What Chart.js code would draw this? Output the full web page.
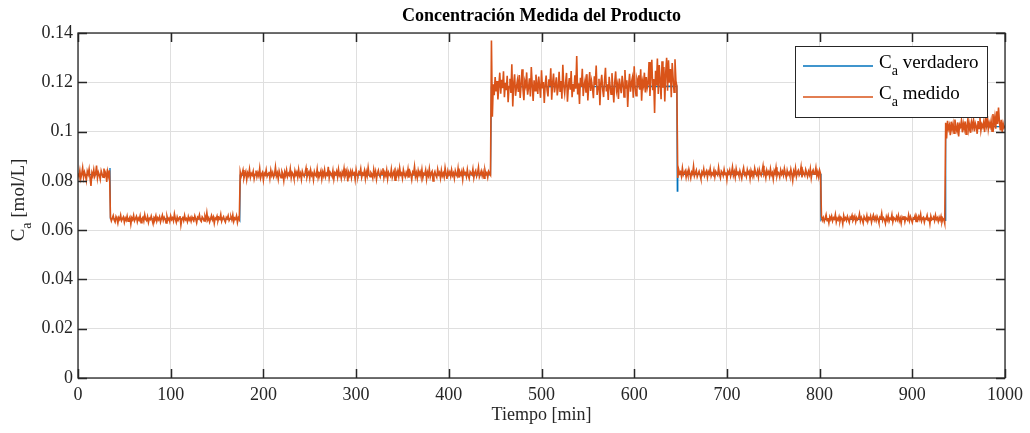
<!DOCTYPE html>
<html lang="es">
<head>
<meta charset="utf-8">
<title>Concentración Medida del Producto</title>
<script src="https://cdn.jsdelivr.net/npm/chart.js@4.4.0/dist/chart.umd.min.js"></script>
<style>
  html, body { margin: 0; padding: 0; background: #fff; }
  #contenedor { width: 1030px; height: 433px; }
</style>
</head>
<body>
<div id="contenedor"><canvas id="grafica" width="1030" height="433"></canvas></div>
<script>
// Tiempo de muestreo de la medición [min]
const tiempo = [
  0,1,2,3,4,5,6,7,8,9,10,11,12,13,14,15,16,17,18,19,20,21,22,23,24,25,26,27,28,29,30,31,32,33,34,35,36,37,38,39,40,41,42,43,44,45,46,47,48,49,
  50,51,52,53,54,55,56,57,58,59,60,61,62,63,64,65,66,67,68,69,70,71,72,73,74,75,76,77,78,79,80,81,82,83,84,85,86,87,88,89,90,91,92,93,94,95,96,97,98,99,
  100,101,102,103,104,105,106,107,108,109,110,111,112,113,114,115,116,117,118,119,120,121,122,123,124,125,126,127,128,129,130,131,132,133,134,135,136,137,138,139,140,141,142,143,144,145,146,147,148,149,
  150,151,152,153,154,155,156,157,158,159,160,161,162,163,164,165,166,167,168,169,170,171,172,173,174,175,176,177,178,179,180,181,182,183,184,185,186,187,188,189,190,191,192,193,194,195,196,197,198,199,
  200,201,202,203,204,205,206,207,208,209,210,211,212,213,214,215,216,217,218,219,220,221,222,223,224,225,226,227,228,229,230,231,232,233,234,235,236,237,238,239,240,241,242,243,244,245,246,247,248,249,
  250,251,252,253,254,255,256,257,258,259,260,261,262,263,264,265,266,267,268,269,270,271,272,273,274,275,276,277,278,279,280,281,282,283,284,285,286,287,288,289,290,291,292,293,294,295,296,297,298,299,
  300,301,302,303,304,305,306,307,308,309,310,311,312,313,314,315,316,317,318,319,320,321,322,323,324,325,326,327,328,329,330,331,332,333,334,335,336,337,338,339,340,341,342,343,344,345,346,347,348,349,
  350,351,352,353,354,355,356,357,358,359,360,361,362,363,364,365,366,367,368,369,370,371,372,373,374,375,376,377,378,379,380,381,382,383,384,385,386,387,388,389,390,391,392,393,394,395,396,397,398,399,
  400,401,402,403,404,405,406,407,408,409,410,411,412,413,414,415,416,417,418,419,420,421,422,423,424,425,426,427,428,429,430,431,432,433,434,435,436,437,438,439,440,441,442,443,444,445,446,447,448,449,
  450,451,452,453,454,455,456,457,458,459,460,461,462,463,464,465,466,467,468,469,470,471,472,473,474,475,476,477,478,479,480,481,482,483,484,485,486,487,488,489,490,491,492,493,494,495,496,497,498,499,
  500,501,502,503,504,505,506,507,508,509,510,511,512,513,514,515,516,517,518,519,520,521,522,523,524,525,526,527,528,529,530,531,532,533,534,535,536,537,538,539,540,541,542,543,544,545,546,547,548,549,
  550,551,552,553,554,555,556,557,558,559,560,561,562,563,564,565,566,567,568,569,570,571,572,573,574,575,576,577,578,579,580,581,582,583,584,585,586,587,588,589,590,591,592,593,594,595,596,597,598,599,
  600,601,602,603,604,605,606,607,608,609,610,611,612,613,614,615,616,617,618,619,620,621,622,623,624,625,626,627,628,629,630,631,632,633,634,635,636,637,638,639,640,641,642,643,644,645,646,647,648,649,
  650,651,652,653,654,655,656,657,658,659,660,661,662,663,664,665,666,667,668,669,670,671,672,673,674,675,676,677,678,679,680,681,682,683,684,685,686,687,688,689,690,691,692,693,694,695,696,697,698,699,
  700,701,702,703,704,705,706,707,708,709,710,711,712,713,714,715,716,717,718,719,720,721,722,723,724,725,726,727,728,729,730,731,732,733,734,735,736,737,738,739,740,741,742,743,744,745,746,747,748,749,
  750,751,752,753,754,755,756,757,758,759,760,761,762,763,764,765,766,767,768,769,770,771,772,773,774,775,776,777,778,779,780,781,782,783,784,785,786,787,788,789,790,791,792,793,794,795,796,797,798,799,
  800,801,802,803,804,805,806,807,808,809,810,811,812,813,814,815,816,817,818,819,820,821,822,823,824,825,826,827,828,829,830,831,832,833,834,835,836,837,838,839,840,841,842,843,844,845,846,847,848,849,
  850,851,852,853,854,855,856,857,858,859,860,861,862,863,864,865,866,867,868,869,870,871,872,873,874,875,876,877,878,879,880,881,882,883,884,885,886,887,888,889,890,891,892,893,894,895,896,897,898,899,
  900,901,902,903,904,905,906,907,908,909,910,911,912,913,914,915,916,917,918,919,920,921,922,923,924,925,926,927,928,929,930,931,932,933,934,935,936,937,938,939,940,941,942,943,944,945,946,947,948,949,
  950,951,952,953,954,955,956,957,958,959,960,961,962,963,964,965,966,967,968,969,970,971,972,973,974,975,976,977,978,979,980,981,982,983,984,985,986,987,988,989,990,991,992,993,994,995,996,997,998,999,
  1000
];

// Concentración medida [mol/L], una muestra por minuto
const caMedido = [
  // 0 - 34 min
  .0831,.0818,.0842,.0809,.0827,.0853,.0814,.0836,.0823,.0801,
  .0839,.0826,.0848,.0812,.0779,.0833,.0820,.0845,.0817,.0829,
  .0862,.0811,.0835,.0824,.0806,.0841,.0828,.0815,.0850,.0822,
  .0834,.0796,.0838,.0819,.0843,
  // 35 - 174 min
  .0652,.0637,.0648,.0659,.0641,.0633,.0655,.0646,.0628,.0651,
  .0643,.0661,.0639,.0647,.0654,.0632,.0649,.0640,.0657,.0636,
  .0645,.0653,.0624,.0650,.0642,.0660,.0638,.0647,.0656,.0634,
  .0649,.0641,.0658,.0630,.0646,.0652,.0637,.0663,.0644,.0639,
  .0655,.0631,.0648,.0643,.0657,.0640,.0626,.0651,.0645,.0659,
  .0636,.0650,.0642,.0654,.0633,.0647,.0661,.0639,.0652,.0644,
  .0629,.0656,.0641,.0648,.0635,.0658,.0643,.0650,.0637,.0666,
  .0646,.0632,.0653,.0640,.0649,.0657,.0621,.0645,.0651,.0638,
  .0660,.0642,.0647,.0634,.0655,.0641,.0650,.0636,.0653,.0644,
  .0639,.0658,.0645,.0630,.0652,.0647,.0662,.0640,.0635,.0654,
  .0648,.0637,.0656,.0643,.0671,.0641,.0650,.0633,.0646,.0659,
  .0642,.0653,.0628,.0649,.0644,.0657,.0638,.0651,.0645,.0664,
  .0636,.0648,.0655,.0640,.0632,.0652,.0646,.0659,.0639,.0647,
  .0654,.0641,.0662,.0635,.0649,.0644,.0658,.0631,.0650,.0643,
  // 175 - 445 min
  .0836,.0817,.0829,.0844,.0811,.0826,.0838,.0805,.0832,.0821,
  .0847,.0814,.0830,.0823,.0839,.0808,.0827,.0842,.0816,.0833,
  .0820,.0851,.0812,.0828,.0835,.0803,.0831,.0824,.0845,.0818,
  .0829,.0837,.0810,.0843,.0822,.0834,.0815,.0826,.0856,.0819,
  .0832,.0807,.0840,.0825,.0813,.0838,.0828,.0801,.0836,.0821,
  .0844,.0817,.0830,.0823,.0849,.0812,.0834,.0827,.0809,.0841,
  .0824,.0835,.0814,.0846,.0820,.0831,.0806,.0839,.0826,.0818,
  .0833,.0852,.0815,.0829,.0837,.0811,.0843,.0822,.0830,.0804,
  .0838,.0825,.0819,.0848,.0813,.0832,.0827,.0841,.0808,.0836,
  .0821,.0845,.0816,.0830,.0824,.0857,.0812,.0835,.0828,.0819,
  .0842,.0807,.0833,.0826,.0839,.0815,.0847,.0822,.0831,.0810,
  .0836,.0824,.0850,.0817,.0829,.0843,.0798,.0834,.0821,.0838,
  .0813,.0840,.0827,.0832,.0805,.0845,.0823,.0818,.0836,.0829,
  .0849,.0814,.0831,.0825,.0842,.0809,.0837,.0820,.0854,.0826,
  .0817,.0834,.0828,.0811,.0846,.0822,.0839,.0806,.0830,.0843,
  .0824,.0815,.0838,.0827,.0851,.0812,.0833,.0821,.0844,.0808,
  .0835,.0826,.0819,.0847,.0814,.0830,.0841,.0803,.0837,.0823,
  .0840,.0818,.0852,.0825,.0831,.0810,.0845,.0828,.0816,.0834,
  .0822,.0848,.0813,.0839,.0827,.0805,.0836,.0829,.0858,.0817,
  .0833,.0811,.0842,.0824,.0837,.0819,.0846,.0812,.0830,.0826,
  .0844,.0807,.0835,.0821,.0849,.0816,.0832,.0839,.0800,.0828,
  .0838,.0823,.0814,.0847,.0826,.0834,.0811,.0843,.0820,.0831,
  .0815,.0853,.0829,.0808,.0840,.0825,.0836,.0818,.0845,.0822,
  .0832,.0810,.0841,.0827,.0819,.0850,.0813,.0835,.0824,.0839,
  .0806,.0843,.0828,.0833,.0817,.0846,.0821,.0809,.0837,.0830,
  .0825,.0848,.0812,.0834,.0842,.0818,.0831,.0855,.0816,.0827,
  .0840,.0820,.0836,.0811,.0844,.0826,.0833,.0814,.0838,.0829,
  .0823,
  // 446 - 646 min
  .1370,.1060,.1192,.1148,.1221,.1163,.1205,.1130,.1187,.1239,
  .1154,.1210,.1176,.1245,.1139,.1198,.1168,.1226,.1119,.1183,
  .1214,.1157,.1273,.1102,.1195,.1232,.1145,.1180,.1207,.1161,
  .1229,.1136,.1190,.1253,.1172,.1127,.1203,.1185,.1240,.1150,
  .1178,.1216,.1142,.1262,.1189,.1124,.1208,.1166,.1231,.1194,
  .1153,.1223,.1181,.1137,.1249,.1175,.1201,.1116,.1192,.1227,
  .1168,.1143,.1212,.1184,.1257,.1129,.1197,.1235,.1159,.1188,
  .1220,.1147,.1179,.1243,.1164,.1205,.1133,.1271,.1186,.1155,
  .1199,.1238,.1121,.1183,.1217,.1170,.1246,.1139,.1193,.1162,
  .1228,.1174,.1307,.1151,.1196,.1112,.1218,.1182,.1255,.1144,
  .1187,.1209,.1158,.1233,.1126,.1191,.1242,.1165,.1204,.1177,
  .1135,.1224,.1189,.1268,.1149,.1181,.1214,.1107,.1196,.1230,
  .1171,.1140,.1206,.1259,.1163,.1192,.1128,.1222,.1185,.1152,
  .1237,.1178,.1118,.1201,.1244,.1167,.1190,.1132,.1215,.1183,
  .1156,.1226,.1197,.1141,.1250,.1174,.1208,.1100,.1188,.1234,
  .1162,.1199,.1218,.1137,.1265,.1180,.1146,.1211,.1193,.1228,
  .1170,.1253,.1125,.1204,.1186,.1239,.1159,.1221,.1176,.1195,
  .1282,.1144,.1231,.1291,.1168,.1213,.1075,.1247,.1187,.1296,
  .1153,.1270,.1208,.1131,.1285,.1178,.1262,.1122,.1240,.1299,
  .1166,.1289,.1198,.1254,.1139,.1278,.1217,.1160,.1293,.1206,
  .1185,
  // 647 - 801 min
  .0812,.0845,.0829,.0836,.0818,.0852,.0824,.0833,.0841,.0815,
  .0838,.0822,.0847,.0830,.0811,.0835,.0827,.0859,.0820,.0832,
  .0843,.0817,.0829,.0839,.0824,.0808,.0836,.0826,.0848,.0821,
  .0833,.0841,.0814,.0837,.0828,.0850,.0819,.0831,.0825,.0844,
  .0816,.0838,.0830,.0823,.0854,.0827,.0812,.0840,.0834,.0821,
  .0846,.0825,.0835,.0805,.0839,.0829,.0843,.0818,.0832,.0856,
  .0822,.0837,.0814,.0849,.0828,.0834,.0820,.0841,.0826,.0810,
  .0836,.0853,.0824,.0831,.0817,.0845,.0829,.0838,.0809,.0842,
  .0827,.0834,.0819,.0851,.0832,.0823,.0840,.0815,.0846,.0830,
  .0821,.0839,.0861,.0826,.0835,.0812,.0843,.0828,.0837,.0818,
  .0848,.0824,.0833,.0807,.0841,.0829,.0855,.0820,.0836,.0831,
  .0815,.0844,.0827,.0838,.0822,.0850,.0830,.0813,.0842,.0825,
  .0834,.0819,.0847,.0828,.0801,.0839,.0826,.0852,.0817,.0835,
  .0843,.0823,.0832,.0857,.0814,.0840,.0829,.0821,.0846,.0833,
  .0818,.0838,.0825,.0849,.0811,.0836,.0844,.0827,.0831,.0854,
  .0820,.0837,.0816,.0843,.0829,
  // 802 - 935 min
  .0658,.0640,.0651,.0635,.0647,.0662,.0638,.0649,.0629,.0654,
  .0643,.0657,.0637,.0650,.0645,.0664,.0633,.0648,.0641,.0655,
  .0636,.0652,.0646,.0625,.0659,.0642,.0650,.0639,.0656,.0644,
  .0631,.0653,.0647,.0660,.0638,.0645,.0657,.0634,.0651,.0642,
  .0648,.0666,.0637,.0652,.0643,.0629,.0655,.0646,.0640,.0659,
  .0635,.0650,.0644,.0657,.0632,.0649,.0661,.0641,.0653,.0638,
  .0656,.0645,.0630,.0652,.0647,.0669,.0639,.0650,.0643,.0627,
  .0654,.0641,.0658,.0636,.0648,.0644,.0663,.0633,.0651,.0646,
  .0639,.0655,.0642,.0660,.0637,.0649,.0628,.0653,.0645,.0657,
  .0634,.0651,.0646,.0640,.0662,.0638,.0655,.0643,.0631,.0650,
  .0647,.0659,.0635,.0652,.0641,.0656,.0644,.0665,.0637,.0649,
  .0653,.0632,.0648,.0645,.0660,.0639,.0651,.0626,.0657,.0642,
  .0646,.0654,.0638,.0661,.0643,.0650,.0635,.0652,.0640,.0656,
  .0633,.0648,.0644,.0627,
  // 936 - 1000 min
  .1036,.0972,.1044,.1011,.1026,.0985,.1040,.1008,.1031,.0993,
  .1049,.1015,.1002,.1037,.0980,.1028,.1019,.1045,.0997,.1033,
  .1010,.1041,.0989,.1024,.1052,.1006,.1030,.0995,.1038,.1017,
  .1047,.1001,.1034,.1022,.0991,.1043,.1013,.1056,.1004,.1029,
  .1018,.1039,.0998,.1050,.1025,.1063,.1009,.1035,.1020,.1044,
  .1002,.1071,.1027,.1058,.1012,.1082,.1031,.1097,.1040,.1005,
  .1048,.0996,.1033,.1016,.1024
];

// Concentración verdadera [mol/L]
const tiempoVerdadero = [0, 34, 34.5, 35, 174, 174.5, 175, 445, 446, 646, 646.5, 647, 801, 801.5, 802, 935, 935.5, 936, 1000];
const caVerdadero = [
  .0825, .0826, .0852, .0647, .0645, .0641, .0823, .0824, .1181, .1184,
  .0758, .0826, .0828, .0642, .0645, .0644, .0640, .1019, .1020
];

// Marcas de los ejes
const ticksTiempo = [0, 100, 200, 300, 400, 500, 600, 700, 800, 900, 1000];
const ticksCa = [0, 0.02, 0.04, 0.06, 0.08, 0.1, 0.12, 0.14];

const COLOR_VERDADERO = '#0072BD';
const COLOR_MEDIDO = '#D95319';
const COLOR_EJE = '#262626';
const FUENTE = '"Liberation Serif", "Times New Roman", serif';

Chart.defaults.font.family = FUENTE;
Chart.defaults.color = COLOR_EJE;

// Dibuja texto con partes en subíndice; devuelve el ancho total
function textoCompuesto(ctx, partes, x, y, alinear) {
  const tam = 19, tamSub = 14;
  let ancho = 0;
  partes.forEach(p => {
    ctx.font = `${p.sub ? tamSub : tam}px ${FUENTE}`;
    p.w = ctx.measureText(p.t).width;
    ancho += p.w;
  });
  let cx = alinear === 'center' ? x - ancho / 2 : x;
  ctx.textAlign = 'left';
  ctx.textBaseline = 'middle';
  partes.forEach(p => {
    ctx.font = `${p.sub ? tamSub : tam}px ${FUENTE}`;
    ctx.fillText(p.t, cx, p.sub ? y + 8 : y);
    cx += p.w;
  });
  return ancho;
}

// Marco, marcas hacia dentro, títulos y leyenda
const marcoPlugin = {
  id: 'marco',
  afterDraw(chart) {
    const { ctx, chartArea: a, scales: { x, y } } = chart;
    ctx.save();

    // marcas hacia dentro en los cuatro lados
    ctx.strokeStyle = COLOR_EJE;
    ctx.lineWidth = 1.5;
    ctx.beginPath();
    ticksTiempo.forEach(v => {
      const px = Math.round(x.getPixelForValue(v)) + 0.5;
      ctx.moveTo(px, a.bottom); ctx.lineTo(px, a.bottom - 9);
      ctx.moveTo(px, a.top); ctx.lineTo(px, a.top + 9);
    });
    ticksCa.forEach(v => {
      const py = Math.round(y.getPixelForValue(v)) + 0.5;
      ctx.moveTo(a.left, py); ctx.lineTo(a.left + 9, py);
      ctx.moveTo(a.right, py); ctx.lineTo(a.right - 9, py);
    });
    ctx.stroke();

    // caja de los ejes
    ctx.lineWidth = 1.3;
    ctx.strokeRect(a.left, a.top, a.right - a.left, a.bottom - a.top);

    // título
    ctx.fillStyle = '#000';
    ctx.font = `bold 18px ${FUENTE}`;
    ctx.textAlign = 'center';
    ctx.textBaseline = 'middle';
    ctx.fillText('Concentración Medida del Producto', (a.left + a.right) / 2, 16);

    // etiqueta del eje x
    ctx.fillStyle = COLOR_EJE;
    ctx.font = `18px ${FUENTE}`;
    ctx.fillText('Tiempo [min]', (a.left + a.right) / 2, 415);

    // etiqueta del eje y (girada)
    ctx.save();
    ctx.translate(19, 200);
    ctx.rotate(-Math.PI / 2);
    textoCompuesto(ctx, [{ t: 'C' }, { t: 'a', sub: true }, { t: ' [mol/L]' }], 0, 0, 'center');
    ctx.restore();

    // leyenda
    ctx.fillStyle = '#fff';
    ctx.fillRect(795.5, 46.5, 192, 71);
    ctx.strokeStyle = COLOR_EJE;
    ctx.lineWidth = 1;
    ctx.strokeRect(795.5, 46.5, 192, 71);
    const entradas = [
      { color: COLOR_VERDADERO, texto: ' verdadero', y: 63 },
      { color: COLOR_MEDIDO, texto: ' medido', y: 94 }
    ];
    entradas.forEach(e => {
      ctx.strokeStyle = e.color;
      ctx.lineWidth = 1.5;
      ctx.beginPath();
      ctx.moveTo(803, e.y + 3);
      ctx.lineTo(873, e.y + 3);
      ctx.stroke();
      ctx.fillStyle = '#000';
      textoCompuesto(ctx, [{ t: 'C' }, { t: 'a', sub: true }, { t: e.texto }], 879, e.y, 'left');
    });

    ctx.restore();
  }
};

const grafica = new Chart(document.getElementById('grafica'), {
  type: 'line',
  data: {
    datasets: [
      {
        label: 'Ca verdadero',
        data: tiempoVerdadero.map((t, i) => ({ x: t, y: caVerdadero[i] })),
        borderColor: COLOR_VERDADERO,
        borderWidth: 1.3,
        pointRadius: 0,
        order: 1
      },
      {
        label: 'Ca medido',
        data: tiempo.map((t, i) => ({ x: t, y: caMedido[i] })),
        borderColor: COLOR_MEDIDO,
        borderWidth: 1.6,
        pointRadius: 0,
        order: 0
      }
    ]
  },
  options: {
    responsive: false,
    animation: false,
    devicePixelRatio: 1,
    layout: { padding: { top: 33, right: 25, bottom: 0, left: 0 } },
    plugins: {
      legend: { display: false },
      tooltip: { enabled: false },
      title: { display: false }
    },
    scales: {
      x: {
        type: 'linear',
        min: 0,
        max: 1000,
        afterFit: s => { s.height = 55; },
        afterBuildTicks: s => { s.ticks = ticksTiempo.map(v => ({ value: v })); },
        ticks: {
          padding: 6,
          color: COLOR_EJE,
          font: { size: 18 },
          maxRotation: 0,
          autoSkip: false,
          callback: v => String(v)
        },
        grid: { color: '#dfdfdf', drawTicks: false },
        border: { display: false }
      },
      y: {
        min: 0,
        max: 0.14,
        afterFit: s => { s.width = 78; },
        afterBuildTicks: s => { s.ticks = ticksCa.map(v => ({ value: v })); },
        ticks: {
          padding: 5,
          color: COLOR_EJE,
          font: { size: 18 },
          callback: v => String(Number(v.toFixed(2)))
        },
        grid: { color: '#dfdfdf', drawTicks: false },
        border: { display: false }
      }
    }
  },
  plugins: [marcoPlugin]
});
</script>
</body>
</html>
